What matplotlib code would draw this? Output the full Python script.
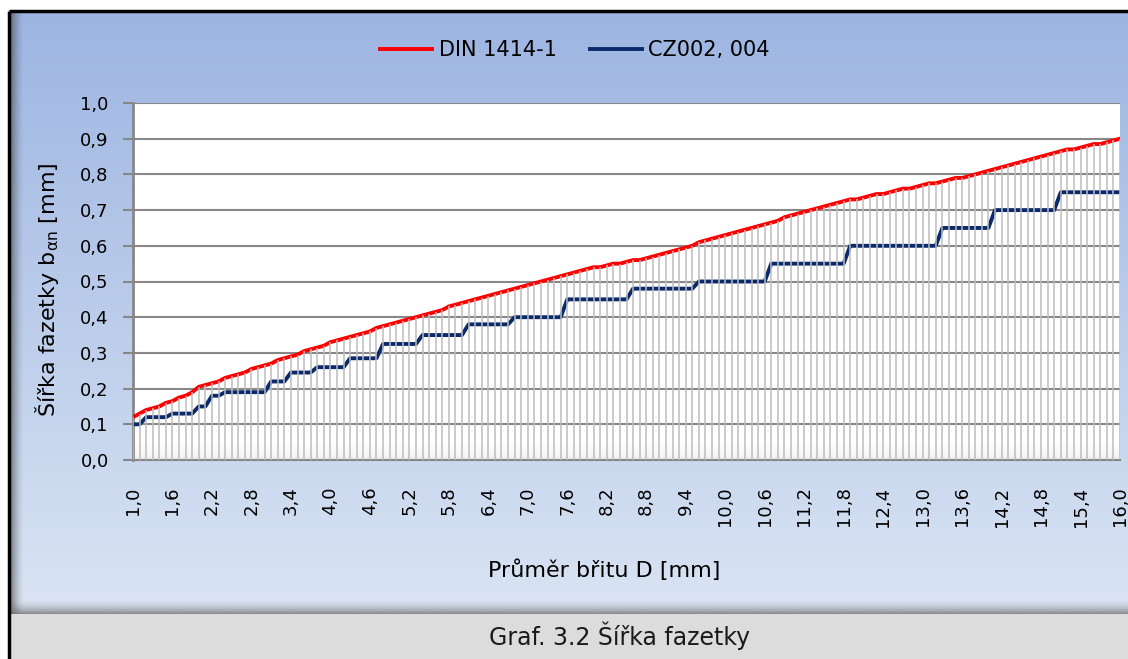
import matplotlib
matplotlib.use('Agg')
import matplotlib.pyplot as plt
import numpy as np

# category axis: D from 1.0 to 16.0 mm, step 0.1
prumer = np.round(np.arange(1.0, 16.05, 0.1), 1)

# DIN 1414-1
din = [0.12, 0.13, 0.14, 0.145, 0.15, 0.16, 0.165, 0.175, 0.18, 0.19,
       0.205, 0.21, 0.215, 0.22, 0.23, 0.235, 0.24, 0.245, 0.255, 0.26,
       0.265, 0.27, 0.28, 0.285, 0.29, 0.295, 0.305, 0.31, 0.315, 0.32,
       0.33, 0.335, 0.34, 0.345, 0.35, 0.355, 0.36, 0.37, 0.375, 0.38,
       0.385, 0.39, 0.395, 0.40, 0.405, 0.41, 0.415, 0.42, 0.43, 0.435,
       0.44, 0.445, 0.45, 0.455, 0.46, 0.465, 0.47, 0.475, 0.48, 0.485,
       0.49, 0.495, 0.50, 0.505, 0.51, 0.515, 0.52, 0.525, 0.53, 0.535,
       0.54, 0.54, 0.545, 0.55, 0.55, 0.555, 0.56, 0.56, 0.565, 0.57,
       0.575, 0.58, 0.585, 0.59, 0.595, 0.60, 0.61, 0.615, 0.62, 0.625,
       0.63, 0.635, 0.64, 0.645, 0.65, 0.655, 0.66, 0.665, 0.67, 0.68,
       0.685, 0.69, 0.695, 0.70, 0.705, 0.71, 0.715, 0.72, 0.725, 0.73,
       0.73, 0.735, 0.74, 0.745, 0.745, 0.75, 0.755, 0.76, 0.76, 0.765,
       0.77, 0.775, 0.775, 0.78, 0.785, 0.79, 0.79, 0.795, 0.80, 0.805,
       0.81, 0.815, 0.82, 0.825, 0.83, 0.835, 0.84, 0.845, 0.85, 0.855,
       0.86, 0.865, 0.87, 0.87, 0.875, 0.88, 0.885, 0.885, 0.89, 0.895,
       0.90]

# CZ002, 004 (stepped values)
cz = [0.10, 0.10, 0.12, 0.12, 0.12, 0.12, 0.13, 0.13, 0.13, 0.13,
      0.15, 0.15, 0.18, 0.18, 0.19, 0.19, 0.19, 0.19, 0.19, 0.19,
      0.19, 0.22, 0.22, 0.22, 0.245, 0.245, 0.245, 0.245, 0.26, 0.26,
      0.26, 0.26, 0.26, 0.285, 0.285, 0.285, 0.285, 0.285, 0.325, 0.325,
      0.325, 0.325, 0.325, 0.325, 0.35, 0.35, 0.35, 0.35, 0.35, 0.35,
      0.35, 0.38, 0.38, 0.38, 0.38, 0.38, 0.38, 0.38, 0.40, 0.40,
      0.40, 0.40, 0.40, 0.40, 0.40, 0.40, 0.45, 0.45, 0.45, 0.45,
      0.45, 0.45, 0.45, 0.45, 0.45, 0.45, 0.48, 0.48, 0.48, 0.48,
      0.48, 0.48, 0.48, 0.48, 0.48, 0.48, 0.50, 0.50, 0.50, 0.50,
      0.50, 0.50, 0.50, 0.50, 0.50, 0.50, 0.50, 0.55, 0.55, 0.55,
      0.55, 0.55, 0.55, 0.55, 0.55, 0.55, 0.55, 0.55, 0.55, 0.60,
      0.60, 0.60, 0.60, 0.60, 0.60, 0.60, 0.60, 0.60, 0.60, 0.60,
      0.60, 0.60, 0.60, 0.65, 0.65, 0.65, 0.65, 0.65, 0.65, 0.65,
      0.65, 0.70, 0.70, 0.70, 0.70, 0.70, 0.70, 0.70, 0.70, 0.70,
      0.70, 0.75, 0.75, 0.75, 0.75, 0.75, 0.75, 0.75, 0.75, 0.75,
      0.75]

y_ticks = [0.0, 0.1, 0.2, 0.3, 0.4, 0.5, 0.6, 0.7, 0.8, 0.9, 1.0]

plt.rcParams['font.family'] = ['DejaVu Sans']

W, H = 1128, 659
fig = plt.figure(figsize=(W / 100, H / 100), dpi=100)

# background (chart area gradient, frame, caption box)
bg = fig.add_axes([0, 0, 1, 1])
bg.set_xlim(0, W)
bg.set_ylim(H, 0)
bg.axis('off')

top_c = np.array([157, 181, 226]) / 255
bot_c = np.array([218, 228, 243]) / 255
t = np.linspace(0, 1, 256).reshape(-1, 1, 1)
grad = top_c * (1 - t) + bot_c * t
bg.imshow(grad, extent=(10, W, 614, 12), origin='upper', aspect='auto')

# left shadow inside the frame
sh = np.zeros((1, 64, 4))
sh[..., :3] = 0.25
sh[..., 3] = np.linspace(0.75, 0, 64) ** 1.5
bg.imshow(sh, extent=(10, 24, 614, 12), origin='upper', aspect='auto')

# bottom shadow
bs = np.zeros((64, 1, 4))
bs[..., :3] = 0.4
bs[..., 3] = np.linspace(0, 0.85, 64).reshape(-1, 1) ** 2
bg.imshow(bs, extent=(10, W, 614, 598), origin='upper', aspect='auto')

bg.add_patch(plt.Rectangle((10, 614), W - 10, H - 614, color='#dcdcdc', lw=0))
bg.plot([9, 9], [11, H], color='black', lw=2.5, solid_capstyle='butt')
bg.plot([9, W], [11, 11], color='black', lw=2.5, solid_capstyle='butt')
bg.text(620, 636, 'Graf. 3.2 Šířka fazetky', ha='center', va='center',
        fontsize=17, color='#1a1a1a')

# main plot
ax = fig.add_axes([133 / W, (H - 460) / H, 987 / W, 357 / H])
ax.set_facecolor('white')

# soft grey fade at the bottom of the plot area
fade = np.zeros((64, 1, 4))
fade[..., :3] = 0.7
fade[..., 3] = np.linspace(0, 0.45, 64).reshape(-1, 1) ** 2
ax.imshow(fade, extent=(0, 150, 0, 0.06), origin='upper', aspect='auto', zorder=0)

x = np.arange(len(prumer))
ax.plot(x, din, color='#ff0000', lw=2.8, label='DIN 1414-1', zorder=3)
ax.plot(x, cz, color='#0b2a6b', lw=2.8, label='CZ002, 004', zorder=3)
# drop lines
ax.vlines(x, 0, din, color='#bdbdbd', lw=1.1, zorder=4)

ax.set_xlim(0, 150)
ax.set_ylim(0, 1.0)
ax.set_yticks(y_ticks)
ax.set_yticklabels([f'{v:.1f}'.replace('.', ',') for v in y_ticks], fontsize=13)
ax.yaxis.grid(True, color='#878787', lw=1.5, zorder=1)
ax.set_axisbelow(True)

ax.set_xticks(x[::6])
ax.set_xticklabels([f'{v:.1f}'.replace('.', ',') for v in prumer[::6]],
                   rotation=90, fontsize=13, va='top')
ax.tick_params(axis='x', length=0, pad=19)
ax.tick_params(axis='y', length=7.5, width=1.5, color='#878787', pad=10)

for s in ['top', 'right']:
    ax.spines[s].set_visible(False)
ax.spines['left'].set_color('#878787')
ax.spines['left'].set_linewidth(2)
ax.spines['bottom'].set_color('#878787')
ax.spines['bottom'].set_linewidth(1.5)

ax.set_xlabel('Průměr břitu D [mm]', fontsize=16)
ax.xaxis.set_label_coords((604 - 133) / 987, (460 - 570) / 357)
ax.set_ylabel(r'Šířka fazetky b$_{\mathrm{\alpha n}}$ [mm]', fontsize=16)
ax.yaxis.set_label_coords((47 - 133) / 987, (460 - 290) / 357)
ax.xaxis.label.set_va('center')
ax.yaxis.label.set_va('center')

fig.legend(loc='center', bbox_to_anchor=(575 / W, 1 - 50 / H), ncol=2,
           frameon=False, fontsize=15, handlelength=2.5, handletextpad=0.3,
           columnspacing=1.6)

fig.savefig('out.png', dpi=100)
